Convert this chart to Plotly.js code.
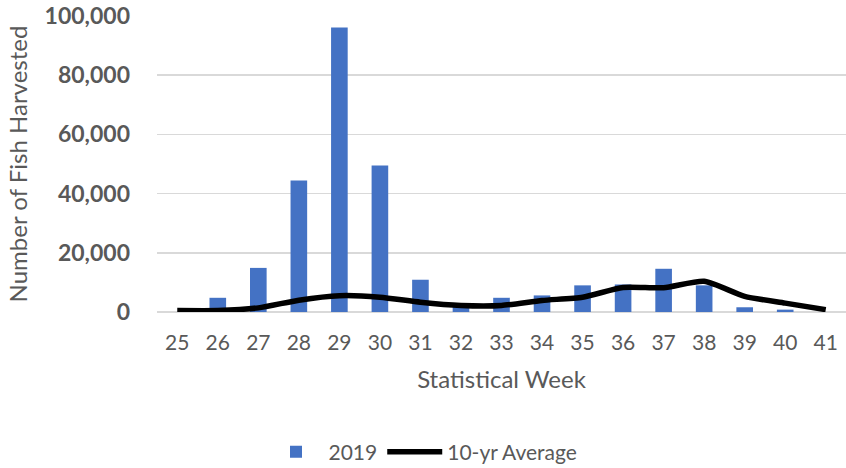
<!DOCTYPE html>
<html>
<head>
<meta charset="utf-8">
<script src="https://cdn.plot.ly/plotly-3.0.1.min.js"></script>
<style>html,body{margin:0;padding:0;background:#fff;}#chart{width:846px;height:468px;}</style>
</head>
<body>
<div id="chart"></div>
<script>
const weeks = ["25","26","27","28","29","30","31","32","33","34","35","36","37","38","39","40","41"];
const harvest2019 = [0, 4800, 14900, 44400, 96100, 49500, 10900, 2500, 4800, 5600, 9000, 9300, 14600, 9000, 1600, 800, 0];
const tenYrAverage = [500, 500, 1400, 4000, 5500, 5000, 3300, 2200, 2200, 3900, 5000, 8300, 8200, 10400, 5300, 3000, 800];
const yTicks = [0, 20000, 40000, 60000, 80000, 100000];

const gray = "#595959";
const font = "Lato, 'Open Sans', sans-serif";

const traces = [
  {
    type: "bar", name: "2019", x: weeks, y: harvest2019,
    marker: {color: "#4472C4"}
  },
  {
    type: "scatter", mode: "lines", name: "10-yr Average", x: weeks, y: tenYrAverage,
    line: {color: "#000000", width: 5.5, shape: "spline", smoothing: 0.6}
  }
];

const layout = {
  width: 846, height: 468,
  margin: {l: 157, r: 0, t: 16, b: 156},
  paper_bgcolor: "#fff", plot_bgcolor: "#fff",
  bargap: 0.59,
  font: {family: font, color: gray},
  showlegend: true,
  legend: {
    orientation: "h", x: 0.5, xanchor: "center", xref: "container",
    y: 0.034, yanchor: "middle", yref: "container",
    font: {size: 21, color: gray}, itemwidth: 55, traceorder: "normal"
  },
  xaxis: {
    type: "category", categoryorder: "array", categoryarray: weeks,
    showgrid: false, zeroline: false, showline: false,
    ticks: "", tickfont: {size: 21, color: gray},
    ticklabelstandoff: 16,
    title: {text: "Statistical Week", font: {size: 24, color: gray}, standoff: 18}
  },
  yaxis: {
    range: [0, 100000], tickvals: yTicks, tickformat: ",",
    showgrid: true, gridcolor: "#D9D9D9", gridwidth: 1.5,
    zeroline: true, zerolinecolor: "#D9D9D9", zerolinewidth: 1.5,
    showline: false, ticks: "",
    tickfont: {size: 23, color: gray, weight: "bold"},
    ticklabelstandoff: 26,
    title: {text: "Number of Fish Harvested", font: {size: 24, color: gray}, standoff: 10}
  }
};

Plotly.newPlot("chart", traces, layout, {displayModeBar: false, staticPlot: true});
</script>
</body>
</html>
